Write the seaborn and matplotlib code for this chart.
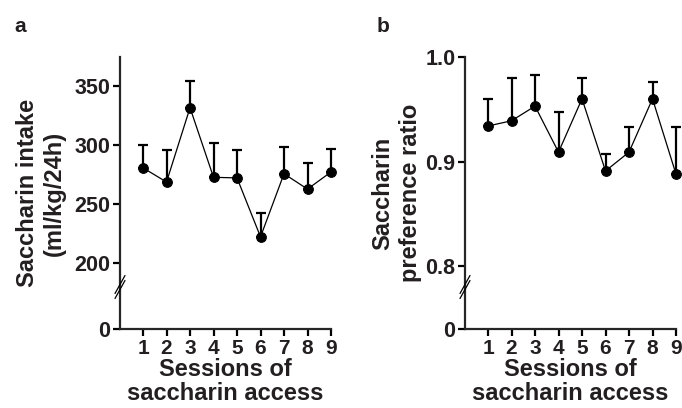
import numpy as np
import pandas as pd
import seaborn as sns
import matplotlib.pyplot as plt

# sessions and group means / SEM
sessions = [1, 2, 3, 4, 5, 6, 7, 8, 9]
intake_mean = [281, 269, 332, 273, 272.5, 222.5, 276, 263, 277.5]
intake_sem = [19, 27, 23, 29.5, 23.5, 20.5, 23, 22.5, 19.5]
pref_mean = [0.934, 0.939, 0.953, 0.909, 0.960, 0.891, 0.909, 0.960, 0.888]
pref_sem = [0.026, 0.041, 0.030, 0.038, 0.020, 0.016, 0.024, 0.016, 0.045]

intake_ticks = [200, 250, 300, 350]
pref_ticks = [0.8, 0.9, 1.0]
pref_ticklabels = ["0.8", "0.9", "1.0"]

sns.set_style("ticks")
plt.rcParams['font.family'] = ['Liberation Sans', 'DejaVu Sans']
plt.rcParams['font.weight'] = 'bold'
plt.rcParams['axes.labelweight'] = 'bold'
TXT = '#231f20'

fig = plt.figure(figsize=(6.82, 4.08), dpi=100)
W, H = 682, 408


def px(x0, y0, x1, y1):
    # pixel box (top-left origin) -> figure fraction rect
    return [x0 / W, (H - y1) / H, (x1 - x0) / W, (y1 - y0) / H]


def panel(xl, xr, means, sems, ylim, ticks, ticklabels, ylabel, lab_x, letter, letter_x):
    top = fig.add_axes(px(xl, 57, xr, 287))
    bot = fig.add_axes(px(xl, 287, xr, 329))
    df = pd.DataFrame({"session": sessions, "mean": means, "sem": sems})

    top.errorbar(df["session"], df["mean"], yerr=[np.zeros(len(df)), df["sem"]],
                 fmt='none', ecolor='black', elinewidth=1.6, capsize=3.5,
                 capthick=1.6, clip_on=False, zorder=2)
    sns.lineplot(data=df, x="session", y="mean", ax=top, color='black',
                 linewidth=0.9, marker='o', markersize=7, markeredgecolor='black',
                 clip_on=False, zorder=3)

    for a in (top, bot):
        a.set_xlim(0.02, 9)
        for s in ('right', 'top'):
            a.spines[s].set_visible(False)
        a.spines['left'].set_linewidth(1.6)
        a.tick_params(width=1.6, length=5, labelsize=15.5, colors='black',
                      labelcolor=TXT, pad=2)
        a.set_xlabel("")
        a.set_ylabel("")
    top.spines['bottom'].set_visible(False)
    top.set_xticks([])
    top.set_ylim(*ylim)
    top.set_yticks(ticks)
    top.set_yticklabels(ticklabels)

    bot.spines['bottom'].set_linewidth(1.6)
    bot.set_ylim(0, 1)
    bot.set_yticks([0])
    bot.set_yticklabels(["0"])
    bot.set_xticks(sessions)
    bot.set_xticklabels([str(s) for s in sessions])
    bot.tick_params(axis='x', labelsize=15)
    bot.set_xlabel("Sessions of\nsaccharin access", fontsize=17, color=TXT,
                   linespacing=1.05, labelpad=0)

    # break mark on the y axis
    for dy in (-2.5, 2.5):
        fig.add_artist(plt.Line2D([(xl - 5) / W, (xl + 5) / W],
                                  [(H - 296 + dy) / H, (H - 278 + dy) / H],
                                  color='black', linewidth=0.9))

    fig.text(lab_x / W, 1 - 193 / H, ylabel, rotation=90, ha='center', va='center',
             fontsize=17, color=TXT, linespacing=1.25)
    fig.text(letter_x / W, 1 - 26 / H, letter, ha='left', va='center',
             fontsize=15, color=TXT)


panel(120, 331, intake_mean, intake_sem, (180, 375), intake_ticks,
      [str(t) for t in intake_ticks], "Saccharin intake\n(ml/kg/24h)", 41, "a", 14)
panel(465, 676, pref_mean, pref_sem, (0.78, 1.0), pref_ticks,
      pref_ticklabels, "Saccharin\npreference ratio", 397, "b", 377)

fig.savefig("out.png", dpi=100)
